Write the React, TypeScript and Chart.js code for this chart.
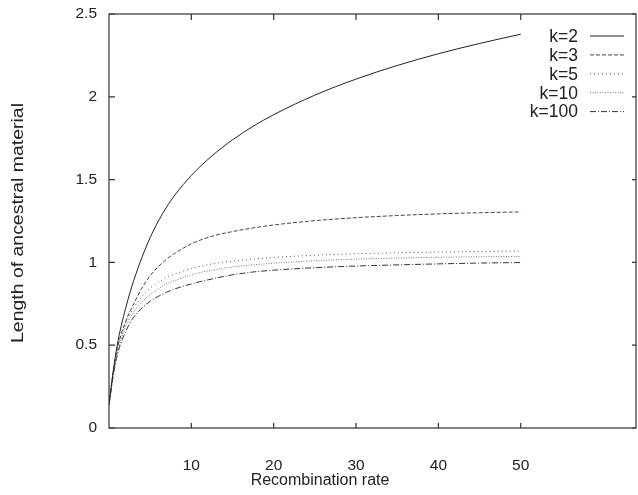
import React, { useEffect, useRef } from "react";
import { Chart, registerables } from "chart.js";

Chart.register(...registerables);

const rates = [0, 0.5, 1, 1.5, 2, 2.5, 3, 4, 5, 6, 7, 8, 10, 12.5, 15, 17.5, 20, 25, 30, 35, 40, 45, 50];
const k2 = [0.14, 0.34, 0.5, 0.62, 0.72, 0.81, 0.89, 1.03, 1.15, 1.25, 1.335, 1.407, 1.525, 1.643, 1.74, 1.822, 1.892, 2.01, 2.107, 2.189, 2.26, 2.322, 2.378];
const k3 = [0.14, 0.33, 0.48, 0.57, 0.64, 0.7, 0.75, 0.845, 0.92, 0.975, 1.02, 1.055, 1.112, 1.158, 1.186, 1.208, 1.226, 1.252, 1.27, 1.283, 1.293, 1.3, 1.305];
const k5 = [0.14, 0.32, 0.46, 0.56, 0.63, 0.68, 0.725, 0.795, 0.845, 0.88, 0.91, 0.93, 0.963, 0.99, 1.008, 1.02, 1.03, 1.043, 1.052, 1.058, 1.062, 1.066, 1.068];
const k10 = [0.14, 0.32, 0.45, 0.54, 0.61, 0.66, 0.7, 0.76, 0.805, 0.84, 0.87, 0.89, 0.925, 0.953, 0.972, 0.985, 0.995, 1.01, 1.02, 1.026, 1.031, 1.034, 1.036];
const k100 = [0.14, 0.31, 0.44, 0.52, 0.58, 0.63, 0.67, 0.725, 0.765, 0.795, 0.82, 0.84, 0.87, 0.9, 0.925, 0.942, 0.953, 0.968, 0.978, 0.985, 0.991, 0.996, 0.999];

const seriesNames = ["k=2", "k=3", "k=5", "k=10", "k=100"];
const seriesValues = [k2, k3, k5, k10, k100];
const xTicks = [10, 20, 30, 40, 50];
const yTicks = [0, 0.5, 1, 1.5, 2, 2.5];
const xTitle = "Recombination rate";
const yTitle = "Length of ancestral material";

const FONT = "'Liberation Sans', Arial, Helvetica, sans-serif";
const styles = [
  { color: "#222", dash: [] as number[] },
  { color: "#444", dash: [4, 2] },
  { color: "#555", dash: [1, 3] },
  { color: "#777", dash: [1, 1.5] },
  { color: "#333", dash: [6, 2, 1, 2] },
];

const framePlugin = {
  id: "frame",
  afterDraw(chart: any) {
    const { ctx, chartArea: a, scales } = chart;
    const xs = scales.x;
    const ys = scales.y;
    ctx.save();
    ctx.strokeStyle = "#333";
    ctx.lineWidth = 1.2;
    ctx.setLineDash([]);
    ctx.strokeRect(a.left, a.top, a.right - a.left, a.bottom - a.top);
    ctx.beginPath();
    for (const v of yTicks) {
      const y = ys.getPixelForValue(v);
      ctx.moveTo(a.left, y);
      ctx.lineTo(a.left + 6, y);
      ctx.moveTo(a.right, y);
      ctx.lineTo(a.right - 4, y);
    }
    for (const v of xTicks) {
      const x = xs.getPixelForValue(v);
      ctx.moveTo(x, a.bottom);
      ctx.lineTo(x, a.bottom - 5);
      ctx.moveTo(x, a.top);
      ctx.lineTo(x, a.top + 6);
    }
    ctx.stroke();

    // legend
    ctx.font = `17.5px ${FONT}`;
    ctx.fillStyle = "#222";
    ctx.textAlign = "right";
    ctx.textBaseline = "middle";
    chart.data.datasets.forEach((ds: any, i: number) => {
      const y = 36 + i * 18.9;
      ctx.fillText(ds.label, 578, y + 1);
      ctx.beginPath();
      ctx.strokeStyle = ds.borderColor;
      ctx.lineWidth = 1;
      ctx.setLineDash(ds.borderDash || []);
      ctx.moveTo(590, y);
      ctx.lineTo(624, y);
      ctx.stroke();
    });
    ctx.setLineDash([]);

    // axis titles
    ctx.fillStyle = "#222";
    ctx.font = `16px ${FONT}`;
    ctx.textAlign = "center";
    ctx.textBaseline = "middle";
    ctx.fillText(xTitle, 320, 481);

    ctx.translate(19, 223);
    ctx.rotate(-Math.PI / 2);
    const w = ctx.measureText(yTitle).width;
    ctx.scale(240 / w, 1);
    ctx.fillText(yTitle, 0, 0);
    ctx.restore();
  },
};

export default function App() {
  const ref = useRef<HTMLCanvasElement | null>(null);
  useEffect(() => {
    document.body.style.margin = "0";
    if (!ref.current) return;
    const datasets = seriesNames.map((name, i) => ({
      label: name,
      data: rates.map((r, j) => ({ x: r, y: seriesValues[i][j] })),
      borderColor: styles[i].color,
      borderDash: styles[i].dash,
      borderWidth: 1,
      pointRadius: 0,
      fill: false,
      cubicInterpolationMode: "monotone" as const,
    }));
    const chart = new Chart(ref.current, {
      type: "line",
      data: { datasets },
      options: {
        animation: false,
        responsive: false,
        devicePixelRatio: 1,
        layout: { padding: { top: 14, right: 2, left: 0, bottom: 0 } },
        plugins: { legend: { display: false }, tooltip: { enabled: false }, title: { display: false } },
        scales: {
          x: {
            type: "linear",
            min: 0,
            max: 64,
            grid: { display: false, drawTicks: false },
            border: { display: false },
            afterBuildTicks: (s: any) => {
              s.ticks = xTicks.map((v) => ({ value: v }));
            },
            afterFit: (s: any) => {
              s.height = 67;
              s.paddingLeft = 0;
              s.paddingRight = 0;
            },
            ticks: {
              padding: 28,
              color: "#222",
              font: { family: FONT, size: 15.5 },
              maxRotation: 0,
              autoSkip: false,
              callback: (v: any) => String(v),
            },
          },
          y: {
            type: "linear",
            min: 0,
            max: 2.5,
            grid: { display: false, drawTicks: false },
            border: { display: false },
            afterBuildTicks: (s: any) => {
              s.ticks = yTicks.map((v) => ({ value: v }));
            },
            afterFit: (s: any) => {
              s.width = 109;
              s.paddingTop = 0;
              s.paddingBottom = 0;
            },
            ticks: {
              padding: 12,
              color: "#222",
              font: { family: FONT, size: 15.5 },
              callback: (v: any) => String(v),
            },
          },
        },
      },
      plugins: [framePlugin],
    });
    return () => chart.destroy();
  }, []);
  return (
    <div style={{ width: 638, height: 495 }}>
      <canvas ref={ref} width={638} height={495} style={{ display: "block" }} />
    </div>
  );
}
